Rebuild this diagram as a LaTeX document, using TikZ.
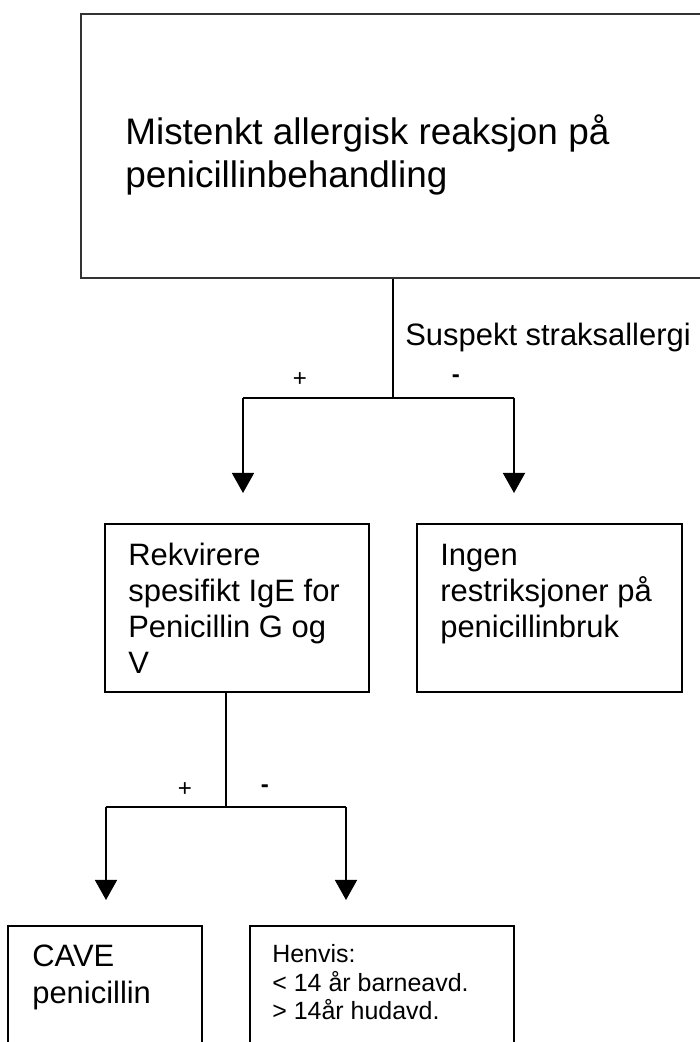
\documentclass[tikz,border=0pt]{standalone}
\usepackage{fontspec}
\setmainfont{Liberation Sans}
\usetikzlibrary{arrows.meta}

\begin{document}
\begin{tikzpicture}[
  box/.style={draw,line width=1.1pt,inner sep=0pt},
  txt/.style={anchor=base west,align=left,inner sep=0pt,font=\fontsize{17.6}{20.5}\selectfont},
  sign/.style={inner sep=0pt,font=\fontsize{13.7}{16}\selectfont},
  conn/.style={line width=0.85pt},
  arr/.style={conn,-{Triangle[length=0.4cm,width=0.44cm]}}
]

\useasboundingbox (0,0) rectangle (14,20.84);
\clip (0,0) rectangle (14,20.84);

% boxes
\node (A) at (7.96,17.92) [box,line width=1.4pt,draw=black!80,minimum width=12.68cm,minimum height=5.28cm] {};
\node (B1) at (4.74,8.68) [box,minimum width=5.28cm,minimum height=3.36cm] {};
\node (B2) at (10.99,8.68) [box,minimum width=5.3cm,minimum height=3.36cm] {};
\node (C1) at (2.1,0.64) [box,minimum width=3.88cm,minimum height=3.36cm] {};
\node (C2) at (7.64,0.64) [box,minimum width=5.28cm,minimum height=3.36cm] {};

% texts (base = last line)
\node (tA) at (2.5,17.09) [txt,font=\fontsize{21}{24.2}\selectfont] {Mistenkt allergisk reaksjon på\\penicillinbehandling};
\node (tB1) at (2.56,7.36) [txt] {Rekvirere\\spesifikt IgE for\\Penicillin G og\\V};
\node (tB2) at (8.8,8.08) [txt] {Ingen\\restriksjoner på\\penicillinbruk};
\node (tC1) at (0.64,0.78) [txt] {CAVE\\penicillin};
\node (tC2) at (5.44,0.44) [txt,font=\fontsize{14.2}{16.5}\selectfont] {Henvis:\\< 14 år barneavd.\\> 14år hudavd.};
\node (susp) at (8.1,13.92) [txt] {Suspekt straksallergi};

% first split
\coordinate (S1) at (7.86,12.88);
\coordinate (S1L) at (4.86,12.88);
\coordinate (S1R) at (10.28,12.88);
\coordinate (T1L) at (4.86,10.98);
\coordinate (T1R) at (10.28,10.98);
\draw [conn] (S1 |- A.south) -- (S1);
\draw [conn] (S1L) -- (S1R);
\draw [arr] (S1L) -- (T1L);
\draw [arr] (S1R) -- (T1R);
\node (p1) at (6.0,13.24) [sign] {+};
\node (m1) at (9.12,13.26) [sign] {\textbf{-}};

% second split
\coordinate (S2) at (4.52,4.7);
\coordinate (S2L) at (2.12,4.7);
\coordinate (S2R) at (6.92,4.7);
\coordinate (T2L) at (2.12,2.84);
\coordinate (T2R) at (6.92,2.84);
\draw [conn] (S2 |- B1.south) -- (S2);
\draw [conn] (S2L) -- (S2R);
\draw [arr] (S2L) -- (T2L);
\draw [arr] (S2R) -- (T2R);
\node (p2) at (3.7,5.04) [sign] {+};
\node (m2) at (5.3,5.06) [sign] {\textbf{-}};

\end{tikzpicture}
\end{document}
